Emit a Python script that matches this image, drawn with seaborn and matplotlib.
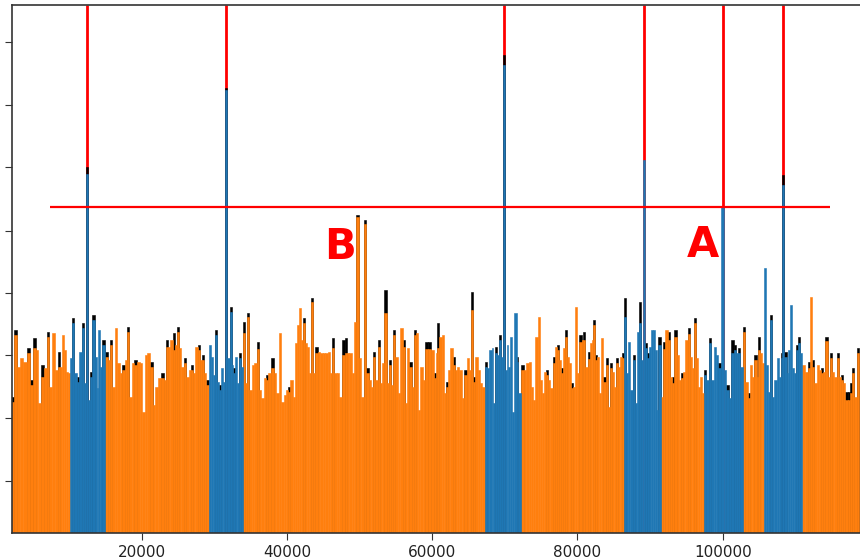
import numpy as np
import pandas as pd
import matplotlib
matplotlib.use("Agg")
import matplotlib.pyplot as plt
import seaborn as sns

# ---- data -----------------------------------------------------------------
positions = [
    2107, 2657, 3015, 3483, 3937, 4488, 4860, 5314, 5630, 5906, 6374, 6690, 7145, 7475, 7833, 8301,
    8576, 8851, 9127, 9443, 9760, 10035, 10365, 10586, 10916, 11274, 11605, 11880, 12196, 12472,
    12788, 13022, 13435, 13669, 13944, 14165, 14495, 14715, 15183, 15541, 15775, 16092, 16463,
    16780, 17152, 17469, 17840, 18157, 18487, 18762, 19079, 19533, 20001, 20221, 20593, 20909,
    21377, 21693, 22065, 22520, 22892, 23208, 23525, 23800, 24130, 24446, 24722, 25039, 25273,
    25645, 25961, 26278, 26650, 26966, 27241, 27572, 27888, 28164, 28398, 28714, 29031, 29403,
    29719, 29953, 30228, 30504, 30779, 31054, 31330, 31605, 31977, 32252, 32527, 32707, 32981,
    33257, 33532, 33766, 34124, 34454, 34674, 35005, 35363, 35693, 35969, 36285, 36602, 36973,
    37290, 37565, 38033, 38349, 38666, 39038, 39355, 39726, 40043, 40318, 40648, 40965, 41337,
    41557, 41791, 42108, 42383, 42713, 42933, 43264, 43484, 43759, 44090, 44448, 44778, 45095,
    45466, 45824, 46154, 46375, 46705, 47063, 47393, 47751, 48123, 48439, 48770, 49045, 49362,
    49733, 50050, 50367, 50738, 51055, 51427, 51743, 52018, 52349, 52666, 52941, 53258, 53588,
    53863, 54180, 54496, 54771, 55102, 55418, 55790, 56107, 56382, 56698, 57029, 57304, 57621,
    57937, 58212, 58543, 58901, 59231, 59589, 60057, 60374, 60608, 60828, 61159, 61434, 61750,
    62067, 62342, 62672, 62989, 63264, 63581, 63911, 64269, 64599, 64874, 65192, 65508, 65783,
    66114, 66431, 66802, 67023, 67394, 67710, 68041, 68316, 68536, 68867, 69087, 69321, 69596,
    69872, 70147, 70381, 70601, 70835, 71152, 71482, 71757, 71978, 72446, 72762, 73079, 73451,
    73767, 74043, 74373, 74648, 74965, 75281, 75515, 75832, 76107, 76437, 76754, 77029, 77263,
    77580, 77897, 78172, 78364, 78639, 78957, 79190, 79506, 79741, 80099, 80430, 80705, 80925,
    81256, 81572, 81847, 82081, 82260, 82535, 82852, 83182, 83403, 83733, 84008, 84284, 84559,
    84834, 85109, 85385, 85701, 85977, 86211, 86624, 86844, 87119, 87450, 87808, 88138, 88358,
    88633, 88909, 89143, 89418, 89693, 89969, 90285, 90561, 90794, 90973, 91249, 91620, 91937,
    92268, 92625, 92860, 93176, 93506, 93782, 94098, 94415, 94690, 95021, 95337, 95612, 95929,
    96163, 96480, 96755, 97085, 97305, 97539, 97856, 98228, 98572, 98916, 99232, 99508, 99976,
    100292, 100664, 100981, 101352, 101669, 101985, 102261, 102591, 102949, 103279, 103596,
    103967, 104188, 104518, 104793, 105014, 105344, 105565, 105867, 106115, 106349, 106624,
    106941, 107271, 107547, 107863, 108097, 108318, 108648, 108923, 109143, 109419, 109694,
    109969, 110245, 110478, 110712, 111167, 111538, 111855, 112130, 112447, 112777, 113052,
    113369, 113686, 113961, 114291, 114608, 114883, 115200, 115530, 115806, 116122, 116439,
    116714, 117044, 117361, 117636, 117953, 118283, 118641,
]
heights = [
    13.1, 19.8, 16.6, 17.5, 17.1, 18.0, 14.8, 18.5, 18.3, 13.0, 15.6, 16.5, 19.6, 14.6, 20.0, 16.3,
    16.6, 16.6, 19.8, 18.3, 16.1, 16.0, 17.5, 21.0, 16.0, 15.1, 18.1, 20.5, 15.0, 35.9,
    13.3, 15.6, 21.3, 17.6, 14.5, 20.3, 16.6, 18.8, 17.6, 17.3, 18.8, 14.6, 20.5,
    17.0, 16.0, 16.3, 17.3, 20.1, 13.6, 17.0, 16.8, 17.1, 17.0, 12.1, 17.8, 18.0,
    16.6, 12.8, 14.6, 15.5, 15.5, 15.3, 18.6, 18.6, 19.3, 18.3, 18.8, 20.1, 18.5,
    16.6, 17.0, 15.6, 16.3, 16.3, 16.0, 18.6, 18.3, 17.3, 17.3, 16.0, 14.8, 18.8,
    17.6, 15.8, 19.8, 15.1, 14.3, 16.5, 15.1, 44.3, 17.5, 22.1, 16.8, 16.0, 17.6,
    15.0, 17.5, 16.6, 20.0, 15.0, 21.6, 14.3, 16.8, 17.0, 18.4, 14.3, 13.5, 15.5,
    15.3, 16.0, 16.5, 16.0, 14.0, 20.0, 13.1, 13.8, 14.3, 14.1, 15.3, 13.6, 19.0,
    20.8, 22.5, 19.3, 21.0, 19.0, 18.6, 16.0, 23.1, 16.0, 18.0, 18.1, 18.0, 18.0,
    18.0, 18.1, 16.0, 18.5, 16.0, 16.0, 13.6, 17.8, 18.0, 18.0, 18.0, 16.0, 21.1,
    31.6, 17.5, 13.6, 30.9, 16.0, 15.3, 14.6, 17.6, 15.3, 18.6, 15.0, 17.0, 22.0,
    15.0, 16.8, 14.8, 19.8, 17.6, 14.0, 20.5, 18.6, 13.0, 18.5, 16.6, 14.6, 19.8,
    20.0, 12.3, 16.6, 15.3, 18.4, 18.4, 18.3, 15.5, 18.0, 18.5, 19.6, 19.8, 14.0,
    14.6, 16.3, 18.5, 16.8, 16.3, 16.6, 16.3, 13.5, 15.8, 17.5, 16.3, 22.3, 15.1,
    17.6, 16.3, 15.0, 14.6, 16.6, 16.5, 18.3, 18.5, 13.0, 18.0, 17.8, 19.3, 17.6,
    46.8, 16.3, 18.8, 16.6, 19.6, 12.1, 22.0, 17.1, 14.0, 16.3, 16.3, 17.0, 17.1,
    14.6, 13.3, 19.6, 21.6, 15.3, 14.0, 16.1, 15.8, 15.3, 14.5, 17.0, 18.6, 18.3,
    17.3, 16.0, 18.5, 19.6, 17.6, 17.0, 14.5, 14.6, 22.6, 16.0, 19.1, 19.3, 19.3,
    16.6, 17.4, 19.0, 19.3, 20.8, 17.3, 17.6, 14.0, 19.5, 15.1, 16.8, 12.6, 16.5,
    16.1, 14.6, 17.0, 16.6, 17.6, 17.5, 21.6, 16.0, 19.1, 14.3, 17.3, 13.0, 20.1,
    21.0, 17.3, 37.3, 18.5, 17.5, 18.6, 20.3, 20.3, 18.3, 12.3, 18.8, 13.6, 18.4,
    20.3, 19.3, 15.6, 15.0, 19.6, 17.8, 15.3, 15.5, 16.1, 19.3, 19.9, 17.6, 16.5,
    21.0, 17.5, 14.6, 15.6, 14.0, 15.8, 15.3, 19.0, 15.3, 18.6, 17.8, 16.5, 32.6,
    16.3, 14.3, 13.5, 18.0, 18.3, 18.0, 18.0, 16.6, 20.1, 15.1, 13.5,
    16.8, 15.6, 17.3, 15.6, 18.3, 18.0, 17.0, 26.5, 16.8, 14.1, 21.3,
    13.6, 15.3, 17.5, 15.6, 17.5, 34.8, 17.6, 16.0, 18.3, 22.8, 16.5,
    16.0, 18.3, 19.0, 18.0, 16.8, 16.1, 16.5, 23.6, 16.6, 15.0, 16.8,
    16.3, 16.0, 16.1, 19.2, 15.6, 17.5, 16.1, 15.6, 17.5, 15.6, 15.3,
    15.0, 13.3, 13.3, 14.0, 16.0, 13.6, 18.0,
]
black_tops = [
    13.6, 20.3, 0, 0, 0, 18.5, 15.3, 19.5, 0, 0, 16.8, 0, 20.1, 0, 0, 0,
    18.1, 0, 0, 0, 0, 0, 0, 21.5, 0, 15.6, 0, 21.0, 0, 36.6,
    0, 16.1, 21.8, 0, 0, 0, 0, 19.3, 18.1, 0, 19.3, 0, 0,
    0, 0, 16.8, 0, 20.6, 0, 0, 17.3, 0, 0, 0, 0, 0,
    17.1, 0, 0, 0, 16.0, 0, 19.3, 0, 0, 20.0, 0, 20.6, 0,
    0, 17.5, 0, 0, 16.8, 0, 0, 18.8, 0, 17.8, 0, 15.3, 0,
    0, 0, 20.3, 0, 14.8, 0, 0, 44.5, 0, 22.6, 0, 16.5, 0,
    0, 18.0, 0, 21.1, 0, 22.0, 0, 0, 0, 19.1, 0, 0, 0,
    15.8, 0, 17.5, 0, 0, 0, 0, 0, 0, 14.6, 0, 0, 0,
    0, 0, 0, 21.5, 0, 0, 0, 23.5, 0, 18.6, 0, 0, 0,
    0, 0, 0, 19.5, 0, 0, 0, 19.3, 19.5, 0, 0, 0, 0,
    31.8, 0, 0, 31.3, 16.5, 0, 0, 18.1, 0, 19.3, 0, 0, 24.3,
    0, 17.3, 0, 20.3, 0, 0, 0, 19.3, 0, 0, 17.1, 0, 20.3,
    0, 0, 0, 0, 19.1, 19.1, 0, 16.0, 0, 21.0, 0, 0, 0,
    15.1, 0, 0, 17.6, 0, 0, 0, 0, 16.3, 0, 0, 24.1, 15.6,
    0, 0, 0, 0, 17.1, 0, 0, 0, 0, 18.6, 0, 19.8, 0,
    47.8, 0, 0, 0, 0, 0, 0, 17.6, 0, 16.8, 0, 0, 0,
    0, 0, 0, 0, 0, 0, 0, 16.3, 0, 0, 17.6, 0, 18.8,
    0, 16.5, 0, 20.3, 0, 0, 15.0, 0, 0, 0, 19.8, 0, 20.1,
    0, 18.1, 0, 0, 21.3, 17.8, 0, 0, 0, 15.6, 17.5, 0, 17.0,
    0, 0, 17.5, 0, 0, 18.0, 23.5, 0, 0, 0, 17.8, 0, 0,
    23.1, 0, 0, 19.0, 18.0, 0, 0, 0, 0, 0, 19.6, 0, 19.1,
    0, 20.1, 0, 15.6, 20.3, 0, 0, 16.0, 0, 0, 20.5, 0, 0,
    21.5, 0, 0, 0, 0, 16.3, 0, 19.5, 0, 0, 0, 17.0, 0,
    0, 14.8, 0, 19.3, 18.8, 0, 18.5, 0, 20.6, 0, 14.0,
    0, 0, 17.8, 0, 19.6, 0, 0, 0, 0, 0, 21.8,
    0, 0, 0, 0, 18.0, 35.8, 18.1, 0, 0, 0, 0,
    0, 18.8, 19.6, 0, 0, 0, 17.1, 0, 17.3, 0, 0,
    0, 16.5, 0, 19.6, 0, 18.0, 0, 0, 18.0, 0, 15.8,
    0, 14.1, 14.1, 15.0, 16.5, 0, 18.5,
]
blue_starts = [10200, 29250, 67250, 86400, 97400, 105700]
blue_ends = [14950, 33900, 72150, 91400, 102700, 110850]
peak_positions = [12472, 31605, 69872, 89143, 99976, 108318]
threshold = 32.6
threshold_from, threshold_to = 7380, 114760
xtick_values = [20000, 40000, 60000, 80000, 100000]
ytick_values = [5.2, 11.5, 17.8, 24.0, 30.2, 36.6, 42.8, 49.1]
labels = ["A", "B"]
label_x = [97264, 47297]
label_y = [28.8, 28.6]

# ---- build table ----------------------------------------------------------
df = pd.DataFrame({"pos": positions, "h": heights, "black": black_tops})
in_blue = np.zeros(len(df), dtype=bool)
for s, e in zip(blue_starts, blue_ends):
    in_blue |= (df["pos"] >= s).to_numpy() & (df["pos"] <= e).to_numpy()
df["region"] = np.where(in_blue, "blue", "orange")

p = df["pos"].to_numpy(float)
mids = (p[1:] + p[:-1]) / 2
edges = np.concatenate([[p[0] - (mids[0] - p[0])], mids, [p[-1] + (p[-1] - mids[-1])]])
bin_edges = [float(v) for v in edges]

# ---- plot -----------------------------------------------------------------
sns.set_style("ticks")
plt.rcParams["font.family"] = ["DejaVu Sans"]

fig = plt.figure(figsize=(8.6, 5.6), dpi=100)
ax = fig.add_axes([12 / 860, 27 / 560, 848 / 860, 528 / 560])

ORANGE = "#ff7f0e"
BLUE = "#1f77b4"

sns.histplot(data=df, x="pos", weights="black", bins=bin_edges, color="black",
             edgecolor="black", linewidth=0.4, alpha=1, ax=ax, zorder=1)
sns.histplot(data=df[df["region"] == "orange"], x="pos", weights="h", bins=bin_edges,
             color=ORANGE, edgecolor=ORANGE, linewidth=0.4, alpha=1, ax=ax, zorder=2)
sns.histplot(data=df[df["region"] == "blue"], x="pos", weights="h", bins=bin_edges,
             color=BLUE, edgecolor=BLUE, linewidth=0.4, alpha=1, ax=ax, zorder=2)

ymax = 52.8
ax.vlines(peak_positions, 0, ymax, color="red", linewidth=2.0, zorder=0.5)
ax.hlines(threshold, threshold_from, threshold_to, color="red", linewidth=1.6, zorder=3)

for t, x, y in zip(labels, label_x, label_y):
    ax.text(x, y, t, color="red", fontsize=30, fontweight="bold",
            ha="center", va="center", zorder=4)

ax.set_xlim(2150, 118900)
ax.set_ylim(0, ymax)
ax.set_xticks(xtick_values)
ax.set_xticklabels([str(v) for v in xtick_values], fontsize=11, color="#222222")
ax.set_yticks(ytick_values)
ax.tick_params(axis="y", labelleft=False, length=5, color="#333333")
ax.tick_params(axis="x", length=5, color="#333333")
ax.set_xlabel("")
ax.set_ylabel("")
ax.spines["right"].set_visible(False)
for side in ["left", "top", "bottom"]:
    ax.spines[side].set_color("#333333")
    ax.spines[side].set_linewidth(1.2)

fig.savefig("out.png", dpi=100)
